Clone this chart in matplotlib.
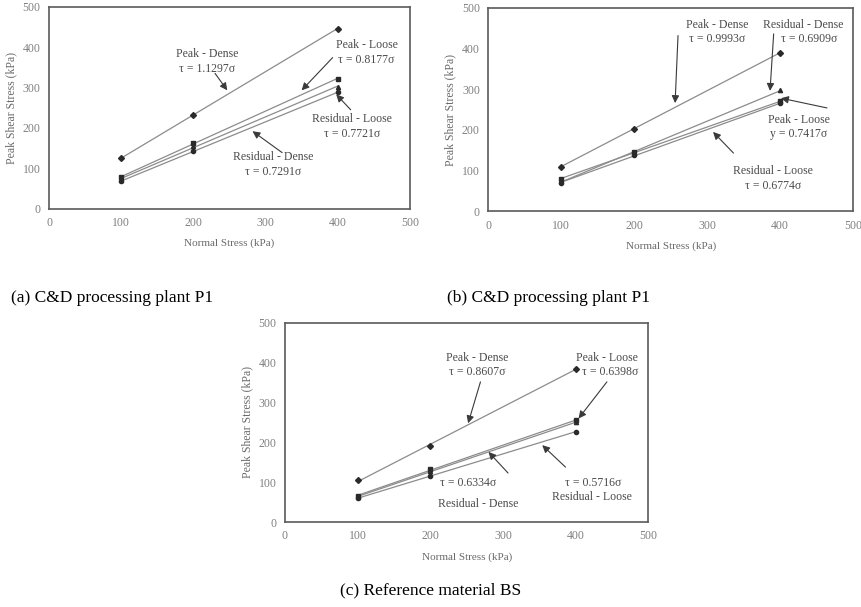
import numpy as np
import matplotlib.pyplot as plt

plt.rcParams['font.family'] = ['Liberation Serif', 'DejaVu Serif']

# normal stress levels (kPa)
sigma = [100, 200, 400]

# (a) C&D processing plant P1
a_names = ['Peak - Dense', 'Peak - Loose', 'Residual - Loose', 'Residual - Dense']
a_slopes = [1.1297, 0.8177, 0.7721, 0.7291]
a_points = [[125, 233, 446], [78, 163, 322], [72, 156, 302], [68, 143, 288]]

# (b) C&D processing plant P1
b_names = ['Peak - Dense', 'Residual - Dense', 'Peak - Loose', 'Residual - Loose']
b_slopes = [0.9993, 0.6909, 0.7417, 0.6774]
b_points = [[110, 203, 390], [80, 145, 270], [75, 142, 298], [70, 138, 265]]

# (c) Reference material BS
c_names = ['Peak - Dense', 'Peak - Loose', 'Residual - Dense', 'Residual - Loose']
c_slopes = [0.8607, 0.6398, 0.6334, 0.5716]
c_points = [[105, 190, 385], [65, 133, 255], [63, 128, 250], [60, 115, 227]]

markers = ['D', 's', '^', 'o']

fig = plt.figure(figsize=(8.61, 6.07), dpi=100)
ax_a = fig.add_axes([0.057, 0.656, 0.419, 0.333])
ax_b = fig.add_axes([0.567, 0.652, 0.424, 0.335])
ax_c = fig.add_axes([0.331, 0.140, 0.422, 0.328])


def draw_panel(ax, points):
    xs = np.array([100, 400])
    for k, pts in enumerate(points):
        # linear trendline through the measured points
        m, b = np.polyfit(sigma, pts, 1)
        ax.plot(xs, m * xs + b, color='#8c8c8c', lw=0.9, zorder=2)
        ax.plot(sigma, pts, linestyle='none', marker=markers[k], ms=3,
                color='#2a2a2a', zorder=3)
    ax.set_xlim(0, 500)
    ax.set_ylim(0, 500)
    ax.set_xticks(range(0, 501, 100))
    ax.set_yticks(range(0, 501, 100))
    ax.tick_params(labelsize=8.5, colors='#808080', length=0, pad=6)
    for sp in ax.spines.values():
        sp.set_color('#5a5a5a')
        sp.set_linewidth(1.2)
    ax.set_xlabel('Normal Stress (kPa)', fontsize=8, color='#6a6a6a', labelpad=7)
    ax.set_ylabel('Peak Shear Stress (kPa)', fontsize=8.5, color='#6a6a6a', labelpad=4)


def label(ax, text, xy):
    ax.text(xy[0], xy[1], text, ha='center', va='center', fontsize=8.5,
            color='#4a4a4a', linespacing=1.3, zorder=4)


def arrow(ax, tail, head):
    ax.annotate('', xy=head, xytext=tail,
                arrowprops=dict(arrowstyle='-|>', color='#3a3a3a', lw=0.8,
                                mutation_scale=11, shrinkA=0, shrinkB=0), zorder=4)


draw_panel(ax_a, a_points)
label(ax_a, a_names[0] + '\nτ = %.4fσ' % a_slopes[0], (219, 364))
arrow(ax_a, (230, 335), (247, 293))
label(ax_a, a_names[1] + '\nτ = %.4fσ' % a_slopes[1], (440, 386))
arrow(ax_a, (393, 374), (350, 293))
label(ax_a, a_names[2] + '\nτ = %.4fσ' % a_slopes[2], (420, 203))
arrow(ax_a, (418, 245), (398, 283))
label(ax_a, a_names[3] + '\nτ = %.4fσ' % a_slopes[3], (310, 109))
arrow(ax_a, (323, 139), (282, 192))

draw_panel(ax_b, b_points)
label(ax_b, b_names[0] + '\nτ = %.4fσ' % b_slopes[0], (313, 441))
arrow(ax_b, (260, 432), (256, 266))
label(ax_b, b_names[1] + '\n    τ = %.4fσ' % b_slopes[1], (432, 441))
arrow(ax_b, (391, 436), (386, 296))
label(ax_b, b_names[2] + '\ny = %.4fσ' % b_slopes[2], (425, 207))
arrow(ax_b, (464, 254), (401, 278))
label(ax_b, b_names[3] + '\nτ = %.4fσ' % b_slopes[3], (390, 81))
arrow(ax_b, (336, 143), (308, 195))

draw_panel(ax_c, c_points)
label(ax_c, c_names[0] + '\nτ = %.4fσ' % c_slopes[0], (264, 394))
arrow(ax_c, (269, 352), (252, 248))
label(ax_c, c_names[1] + '\n  τ = %.4fσ' % c_slopes[1], (443, 394))
arrow(ax_c, (443, 352), (404, 260))
label(ax_c, 'τ = %.4fσ' % c_slopes[2], (252, 98))
label(ax_c, c_names[2], (266, 45))
arrow(ax_c, (307, 123), (280, 176))
label(ax_c, 'τ = %.4fσ' % c_slopes[3], (424, 98))
label(ax_c, c_names[3], (423, 63))
arrow(ax_c, (386, 138), (354, 193))

fig.text(0.130, 0.509, '(a) C&D processing plant P1', ha='center', va='center', fontsize=12.5)
fig.text(0.637, 0.509, '(b) C&D processing plant P1', ha='center', va='center', fontsize=12.5)
fig.text(0.500, 0.028, '(c) Reference material BS', ha='center', va='center', fontsize=12.5)

fig.savefig('out.png', dpi=100)
